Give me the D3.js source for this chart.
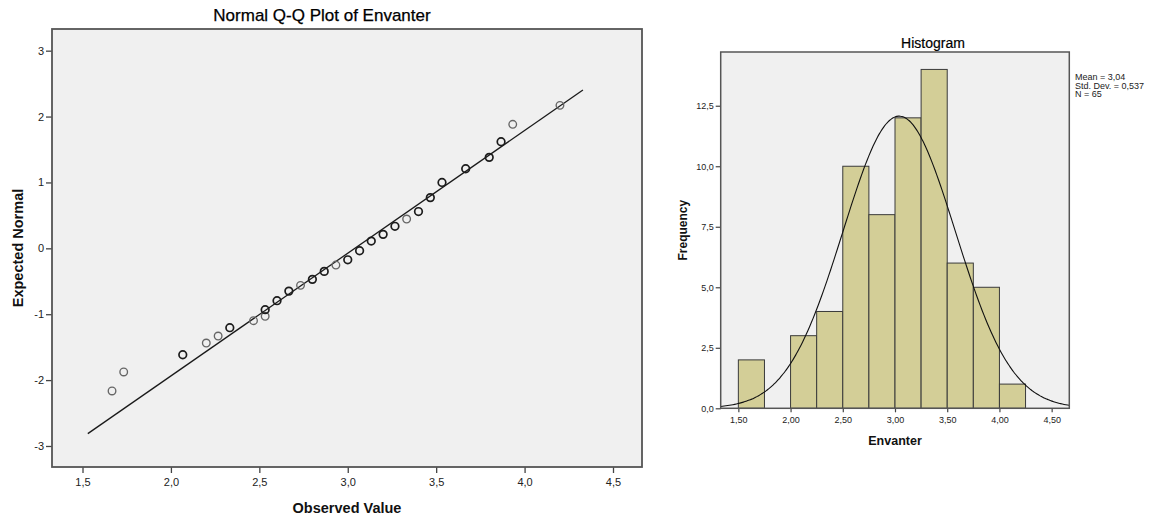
<!DOCTYPE html>
<html>
<head>
<meta charset="utf-8">
<script src="https://cdn.jsdelivr.net/npm/d3@7"></script>
<style>
  html, body { margin: 0; padding: 0; background: #ffffff; }
  svg { display: block; font-family: "Liberation Sans", Arial, sans-serif; }
</style>
</head>
<body>
<svg id="chart" width="1159" height="523"></svg>
<script>
// ---- Normal Q-Q plot data (distinct observed values and their expected normal scores)
const observed = [1.667, 1.733, 2.067, 2.2, 2.267, 2.333, 2.467, 2.533, 2.533, 2.6, 2.667,
  2.733, 2.8, 2.867, 2.933, 3.0, 3.067, 3.133, 3.2, 3.267, 3.333, 3.4, 3.467, 3.533,
  3.667, 3.8, 3.867, 3.933, 4.2];
const expectedNormal = [-2.165, -1.877, -1.615, -1.437, -1.331, -1.205, -1.098, -1.031, -0.931,
  -0.795, -0.649, -0.562, -0.471, -0.350, -0.254, -0.174, -0.037, 0.110, 0.212, 0.334,
  0.445, 0.558, 0.770, 1.0, 1.208, 1.381, 1.618, 1.882, 2.170];
// number of cases sharing each plotted value (overlapping markers look darker)
const ties = [1, 1, 2, 1, 1, 2, 1, 1, 2, 2, 2, 1, 2, 2, 1, 2, 2, 2, 2, 2, 1, 2, 2, 2, 2, 2, 2, 1, 1];
const lineObserved = [1.53, 4.33];
const qqXTicks = [1.5, 2.0, 2.5, 3.0, 3.5, 4.0, 4.5];
const qqYTicks = [-3, -2, -1, 0, 1, 2, 3];

// ---- Histogram data
const binStarts = [1.5, 1.75, 2.0, 2.25, 2.5, 2.75, 3.0, 3.25, 3.5, 3.75, 4.0];
const frequency = [2, 0, 3, 4, 10, 8, 12, 14, 6, 5, 1];
const binWidth = 0.25;
const histXTicks = [1.5, 2.0, 2.5, 3.0, 3.5, 4.0, 4.5];
const histYTicks = [0, 2.5, 5, 7.5, 10, 12.5];
const mean = 3.04, stdDev = 0.537, n = 65;
const statsLines = ["Mean = 3,04", "Std. Dev. = 0,537", "N = 65"];

const svg = d3.select("#chart");
const comma = fmt => d => fmt(d).replace(".", ",");

// ================= Normal Q-Q plot =================
const qq = { left: 52, right: 642, top: 29, bottom: 467 };
const qx = d3.scaleLinear().domain([1.3275, 4.664]).range([qq.left, qq.right]);
const qy = d3.scaleLinear().domain([-3.319, 3.329]).range([qq.bottom, qq.top]);

svg.append("rect")
  .attr("x", qq.left).attr("y", qq.top)
  .attr("width", qq.right - qq.left).attr("height", qq.bottom - qq.top)
  .attr("fill", "#f0f0f0");

svg.append("clipPath").attr("id", "qqclip")
  .append("rect").attr("x", qq.left).attr("y", qq.top)
  .attr("width", qq.right - qq.left).attr("height", qq.bottom - qq.top);

const qqPlot = svg.append("g").attr("clip-path", "url(#qqclip)");

// fitted normal line
qqPlot.append("line")
  .attr("x1", qx(lineObserved[0])).attr("y1", qy((lineObserved[0] - mean) / stdDev))
  .attr("x2", qx(lineObserved[1])).attr("y2", qy((lineObserved[1] - mean) / stdDev))
  .attr("stroke", "#1a1a1a").attr("stroke-width", 1.3);

qqPlot.selectAll("circle.pt")
  .data(observed.map((v, i) => ({ x: v, y: expectedNormal[i], t: ties[i] })))
  .join("circle")
  .attr("class", "pt")
  .attr("cx", d => qx(d.x)).attr("cy", d => qy(d.y))
  .attr("r", 3.8)
  .attr("fill", "none")
  .attr("stroke", d => d.t > 1 ? "#1c1c1c" : "#666666")
  .attr("stroke-width", d => d.t > 1 ? 1.7 : 1.35);

const qqXAxis = svg.append("g")
  .attr("transform", `translate(0,${qq.bottom})`)
  .call(d3.axisBottom(qx).tickValues(qqXTicks).tickFormat(comma(d3.format(".1f"))).tickSizeOuter(0).tickSize(6).tickPadding(5));
const qqYAxis = svg.append("g")
  .attr("transform", `translate(${qq.left},0)`)
  .call(d3.axisLeft(qy).tickValues(qqYTicks).tickFormat(d => d < 0 ? "-" + Math.abs(d) : String(d)).tickSizeOuter(0).tickSize(6).tickPadding(2));

[qqXAxis, qqYAxis].forEach(a => {
  a.select(".domain").remove();
  a.selectAll(".tick line").attr("stroke", "#444").attr("stroke-width", 1.3);
  a.selectAll(".tick text").attr("fill", "#222").style("font-size", "11px");
});

svg.append("rect")
  .attr("x", qq.left).attr("y", qq.top)
  .attr("width", qq.right - qq.left).attr("height", qq.bottom - qq.top)
  .attr("fill", "none").attr("stroke", "#555").attr("stroke-width", 1.8);

svg.append("text")
  .attr("x", 322).attr("y", 21)
  .attr("text-anchor", "middle")
  .style("font-size", "17px").attr("fill", "#000")
  .attr("stroke", "#000").attr("stroke-width", 0.25)
  .text("Normal Q-Q Plot of Envanter");

svg.append("text")
  .attr("x", (qq.left + qq.right) / 2).attr("y", 513)
  .attr("text-anchor", "middle")
  .style("font-size", "14.5px").style("font-weight", "bold").attr("fill", "#111")
  .text("Observed Value");

svg.append("text")
  .attr("transform", `translate(23,${(qq.top + qq.bottom) / 2}) rotate(-90)`)
  .attr("text-anchor", "middle")
  .style("font-size", "14.5px").style("font-weight", "bold").attr("fill", "#111")
  .text("Expected Normal");

// ================= Histogram =================
const hs = { left: 720.7, right: 1069.3, top: 52, bottom: 408.3 };
const hx = d3.scaleLinear().domain([1.331, 4.669]).range([hs.left, hs.right]);
const hy = d3.scaleLinear().domain([0, 14.72]).range([hs.bottom, hs.top]);

svg.append("rect")
  .attr("x", hs.left).attr("y", hs.top)
  .attr("width", hs.right - hs.left).attr("height", hs.bottom - hs.top)
  .attr("fill", "#f0f0f0");

svg.append("g").selectAll("rect")
  .data(binStarts.map((b, i) => ({ x0: b, x1: b + binWidth, f: frequency[i] })).filter(d => d.f > 0))
  .join("rect")
  .attr("x", d => hx(d.x0)).attr("y", d => hy(d.f))
  .attr("width", d => hx(d.x1) - hx(d.x0)).attr("height", d => hy(0) - hy(d.f))
  .attr("fill", "#d3ce97").attr("stroke", "#3a3a3a").attr("stroke-width", 1);

// normal density scaled to counts per bin
const curveXs = d3.range(0, 201).map(i => hx.domain()[0] + (hx.domain()[1] - hx.domain()[0]) * i / 200);
const density = x => n * binWidth / (stdDev * Math.sqrt(2 * Math.PI)) * Math.exp(-0.5 * ((x - mean) / stdDev) ** 2);
svg.append("path")
  .datum(curveXs)
  .attr("d", d3.line().x(d => hx(d)).y(d => hy(density(d))).curve(d3.curveBasis))
  .attr("fill", "none").attr("stroke", "#111").attr("stroke-width", 1.1);

const hXAxis = svg.append("g")
  .attr("transform", `translate(0,${hs.bottom})`)
  .call(d3.axisBottom(hx).tickValues(histXTicks).tickFormat(comma(d3.format(".2f"))).tickSizeOuter(0).tickSize(4).tickPadding(4));
const hYAxis = svg.append("g")
  .attr("transform", `translate(${hs.left},0)`)
  .call(d3.axisLeft(hy).tickValues(histYTicks).tickFormat(comma(d3.format(".1f"))).tickSizeOuter(0).tickSize(5).tickPadding(2));

[hXAxis, hYAxis].forEach(a => {
  a.select(".domain").remove();
  a.selectAll(".tick line").attr("stroke", "#444").attr("stroke-width", 1.2);
  a.selectAll(".tick text").attr("fill", "#222").style("font-size", "9px");
});

svg.append("rect")
  .attr("x", hs.left).attr("y", hs.top)
  .attr("width", hs.right - hs.left).attr("height", hs.bottom - hs.top)
  .attr("fill", "none").attr("stroke", "#555").attr("stroke-width", 1.5);

svg.append("text")
  .attr("x", 933).attr("y", 48)
  .attr("text-anchor", "middle")
  .style("font-size", "14px").attr("fill", "#000")
  .attr("stroke", "#000").attr("stroke-width", 0.2)
  .text("Histogram");

svg.append("text")
  .attr("x", (hs.left + hs.right) / 2).attr("y", 445)
  .attr("text-anchor", "middle")
  .style("font-size", "12.5px").style("font-weight", "bold").attr("fill", "#111")
  .text("Envanter");

svg.append("text")
  .attr("transform", `translate(687,${(hs.top + hs.bottom) / 2}) rotate(-90)`)
  .attr("text-anchor", "middle")
  .style("font-size", "12px").style("font-weight", "bold").attr("fill", "#111")
  .text("Frequency");

svg.append("g").selectAll("text")
  .data(statsLines)
  .join("text")
  .attr("x", 1075).attr("y", (d, i) => 80 + i * 8.7)
  .style("font-size", "9px").attr("fill", "#222")
  .text(d => d);
</script>
</body>
</html>
